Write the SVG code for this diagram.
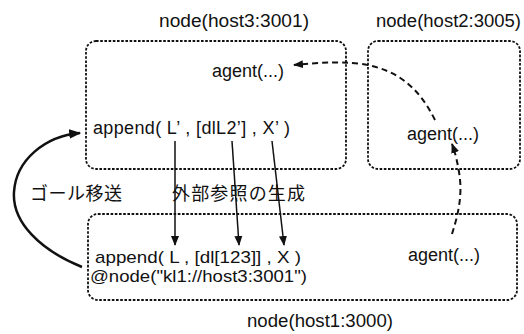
<svg xmlns="http://www.w3.org/2000/svg" width="524" height="334" viewBox="0 0 524 334">
<defs>
<style>
.box{fill:none;stroke:#111;stroke-width:1.8;stroke-dasharray:2.6 1.6}
.t{font-family:"Liberation Sans",Arial,sans-serif;font-size:18px;fill:#111}
.s{font-size:17px}
.j{font-family:"Noto Sans CJK JP",sans-serif;font-size:18px;fill:#111}
.ln{fill:none;stroke:#111;stroke-width:1.5}
.dl{fill:none;stroke:#111;stroke-width:2;stroke-dasharray:6 4}
.sl{fill:none;stroke:#111;stroke-width:2.5}
</style>
<marker id="ah" viewBox="0 0 10 10" refX="9" refY="5" markerWidth="10" markerHeight="10" markerUnits="userSpaceOnUse" orient="auto">
<path d="M0,1 L10,5 L0,9 Z" fill="#111"/>
</marker>
<marker id="ah2" viewBox="0 0 10 10" refX="9" refY="5" markerWidth="12" markerHeight="12" markerUnits="userSpaceOnUse" orient="auto">
<path d="M0,1 L10,5 L0,9 Z" fill="#111"/>
</marker>
</defs>
<g id="host3">
<rect class="box" x="86" y="41" width="260" height="128" rx="10"/>
<text class="t" x="159" y="27" textLength="150" lengthAdjust="spacingAndGlyphs">node(host3:3001)</text>
<text class="t" x="212" y="77">agent(...)</text>
<text class="t" x="93" y="134" textLength="197" lengthAdjust="spacing">append( L’ , [dlL2’] , X’ )</text>
</g>
<g id="host2">
<rect class="box" x="368" y="41" width="152" height="128" rx="10"/>
<text class="t" x="376" y="27" textLength="145" lengthAdjust="spacingAndGlyphs">node(host2:3005)</text>
<text class="t" x="407" y="140">agent(...)</text>
</g>
<g id="host1">
<rect class="box" x="88" y="214" width="429" height="86" rx="10"/>
<text class="t s" x="95" y="263" textLength="206" lengthAdjust="spacingAndGlyphs">append( L , [dl[123]] , X )</text>
<text class="t s" x="90" y="282" textLength="217" lengthAdjust="spacingAndGlyphs">@node("kl1://host3:3001")</text>
<text class="t" x="408" y="261">agent(...)</text>
<text class="t" x="247" y="327" textLength="146" lengthAdjust="spacingAndGlyphs">node(host1:3000)</text>
</g>
<g id="labels">
<text class="j" x="30" y="200" textLength="92">ゴール移送</text>
<text class="j" x="172" y="200" textLength="133">外部参照の生成</text>
</g>
<g id="connectors">
<line class="ln" x1="175" y1="141" x2="175" y2="245" marker-end="url(#ah)"/>
<line class="ln" x1="232" y1="141" x2="239" y2="245" marker-end="url(#ah)"/>
<line class="ln" x1="272" y1="141" x2="284" y2="245" marker-end="url(#ah)"/>
<path class="dl" d="M452 234 C458 215,463 195,459 172 C457 160,455 152,452 144" marker-end="url(#ah)"/>
<path class="dl" d="M435 120 C420 90,400 70,362 64 C335 61,315 63,294 65" marker-end="url(#ah)"/>
<path class="sl" d="M82 267 C40 250,12 222,14 192 C16 160,45 136,80 133" marker-end="url(#ah2)"/>
</g>
</svg>
